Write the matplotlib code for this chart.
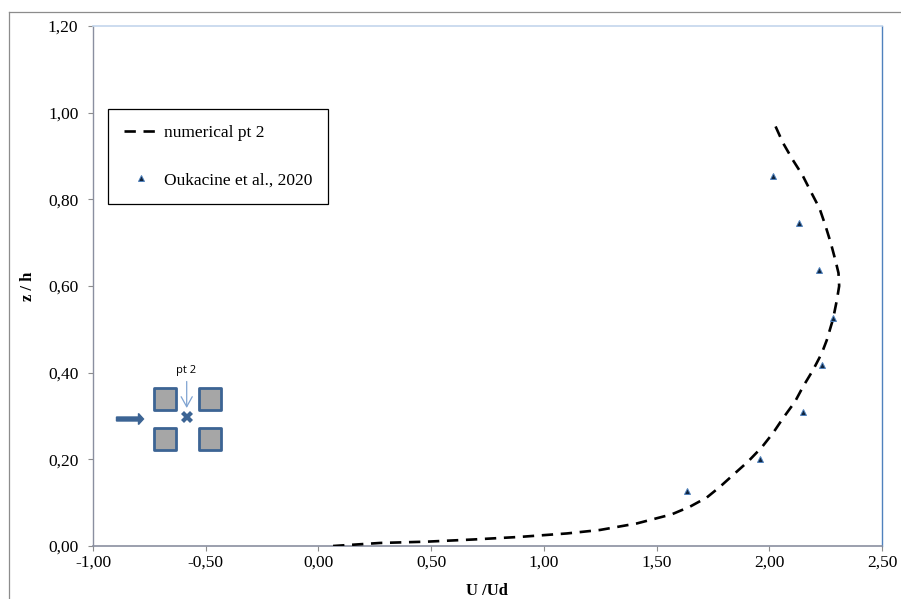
"""
Velocity profile at point 2: numerical curve against measured points.
"""
import matplotlib
matplotlib.use('Agg')
import matplotlib.pyplot as plt
from matplotlib.lines import Line2D
from matplotlib.patches import FancyArrow, FancyArrowPatch, Rectangle
from matplotlib.transforms import IdentityTransform

plt.rcParams['font.family'] = ['Liberation Serif', 'DejaVu Serif']

# numerical curve
u_num = [0.065, 0.273, 0.48, 0.686, 0.894, 1.103, 1.249, 1.412, 1.567, 1.649, 1.723, 1.782,
         1.848, 1.906, 1.967, 2.017, 2.061, 2.114, 2.150, 2.194, 2.233, 2.255, 2.283, 2.300,
         2.310, 2.307, 2.295, 2.273, 2.248, 2.223, 2.184, 2.147, 2.103, 2.060, 2.022]
z_num = [0.000, 0.007, 0.010, 0.015, 0.021, 0.029, 0.037, 0.052, 0.073, 0.091, 0.112, 0.137,
         0.168, 0.195, 0.228, 0.261, 0.295, 0.333, 0.368, 0.406, 0.445, 0.475, 0.524, 0.568,
         0.600, 0.630, 0.656, 0.699, 0.741, 0.779, 0.818, 0.856, 0.892, 0.931, 0.975]

# measured points
u_exp = [1.635, 1.957, 2.148, 2.233, 2.281, 2.222, 2.130, 2.015]
z_exp = [0.127, 0.200, 0.309, 0.418, 0.526, 0.637, 0.745, 0.855]

x_ticks = [-1.0, -0.5, 0.0, 0.5, 1.0, 1.5, 2.0, 2.5]
x_labels = ['-1,00', '-0,50', '0,00', '0,50', '1,00', '1,50', '2,00', '2,50']
y_ticks = [0.0, 0.2, 0.4, 0.6, 0.8, 1.0, 1.2]
y_labels = ['0,00', '0,20', '0,40', '0,60', '0,80', '1,00', '1,20']

W, H = 901, 599
fig = plt.figure(figsize=(W / 100, H / 100), dpi=100)
ax = fig.add_axes([93 / W, 1 - 546 / H, 789 / W, 520 / H])


def fx(px):
    return px / W


def fy(py):
    return 1 - py / H


ax.plot(u_num, z_num, color='black', lw=1.9, linestyle=(0, (4.3, 2.9)),
        dash_capstyle='butt', label='numerical pt 2', zorder=3)
ax.plot(u_exp, z_exp, linestyle='none', marker='^', ms=5, mfc='#0f243e', mec='#4f81bd',
        mew=0.7, label='Oukacine et al., 2020', zorder=4)

ax.set_xlim(-1, 2.5)
ax.set_ylim(0, 1.2)
ax.set_xticks(x_ticks, x_labels)
ax.set_yticks(y_ticks, y_labels)
ax.tick_params(length=3.5, width=0.8, color='#8c8c8c', labelsize=12.5)
ax.tick_params(axis='y', pad=7)
ax.tick_params(axis='x', pad=3)
ax.spines['left'].set_color('#8a8fa0')
ax.spines['bottom'].set_color('#8a8fa0')
ax.spines['left'].set_linewidth(1.0)
ax.spines['bottom'].set_linewidth(1.2)
ax.spines['top'].set_color('#c3d6ec')
ax.spines['top'].set_linewidth(1.2)
ax.spines['right'].set_color('#4f81bd')
ax.spines['right'].set_linewidth(1.0)

ax.set_xlabel('U /Ud', fontweight='bold', fontsize=12)
ax.xaxis.set_label_coords(0.499, -0.072)
ax.set_ylabel('z / h', fontweight='bold', fontsize=12)
ax.yaxis.set_label_coords(-0.072, 0.5)

leg = ax.legend(loc='upper left', bbox_to_anchor=(fx(107.7), fy(109)),
                bbox_transform=fig.transFigure, fontsize=12.5, fancybox=False,
                framealpha=1, edgecolor='black', borderaxespad=0, borderpad=0.92,
                labelspacing=1.8, handlelength=2.0, handletextpad=0.3, numpoints=1)
leg.get_frame().set_linewidth(0.9)

# outer chart border
fig.add_artist(Line2D([fx(8.5), fx(8.5)], [fy(11.5), fy(599)], color='#8c8c8c', lw=0.9))
fig.add_artist(Line2D([fx(8.5), fx(901)], [fy(11.5), fy(11.5)], color='#8c8c8c', lw=0.9))

# inset sketch of the four blocks
for left in (153.5, 198.5):
    for top in (388, 428):
        fig.add_artist(Rectangle((fx(left), fy(top + 22)), 22 / W, 22 / H, facecolor='#a6a6a6',
                                 edgecolor='#3c6494', lw=2.0, transform=fig.transFigure,
                                 joinstyle='round'))

fig.add_artist(FancyArrow(116.5, H - 419, 27, 0, width=4, head_width=11, head_length=5,
                          length_includes_head=True, color='#3c6494',
                          transform=IdentityTransform()))
fig.add_artist(Line2D([fx(186.5)], [fy(416.5)], marker='X', ms=8, color='#3c6494', mew=0))
fig.add_artist(FancyArrowPatch((fx(186.7), fy(381.5)), (fx(186.7), fy(408)),
                               transform=fig.transFigure, arrowstyle='->,head_length=0.9,head_width=0.5',
                               mutation_scale=8, color='#7fa3d1', lw=0.9,
                               shrinkA=0, shrinkB=0))
fig.text(fx(185.7), fy(371), 'pt 2', family='Open Sans', fontsize=8, ha='center', va='center')

fig.savefig('out.png', dpi=100)
